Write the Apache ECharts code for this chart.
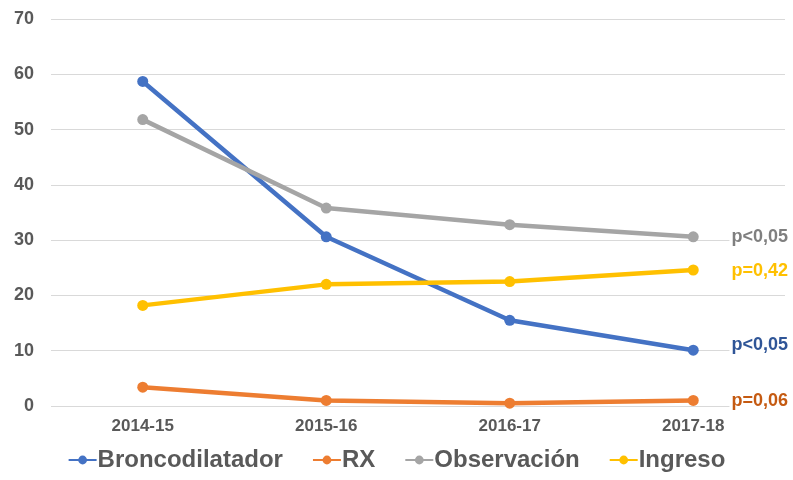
<!DOCTYPE html>
<html>
<head>
<meta charset="utf-8">
<script src="https://cdn.jsdelivr.net/npm/echarts@6/dist/echarts.min.js"></script>
<style>
  html, body { margin: 0; padding: 0; background: #fff; }
  #chart { width: 793px; height: 480px; }
</style>
</head>
<body>
<div id="chart"></div>
<script>
// datos
const seasons = ['2014-15', '2015-16', '2016-17', '2017-18']
const broncodilatador = [58.7, 30.6, 15.5, 10.1]
const rx = [3.4, 1.0, 0.5, 1.0]
const observacion = [51.8, 35.8, 32.8, 30.6]
const ingreso = [18.2, 22.0, 22.5, 24.6]
const yTicks = { min: 0, max: 70, interval: 10 }

const colors = ['#4472C4', '#ED7D31', '#A5A5A5', '#FFC000']
const font = 'Liberation Sans, Arial, sans-serif'

const chart = echarts.init(document.getElementById('chart'))

function line(name, data, color) {
  return {
    name,
    type: 'line',
    data,
    symbol: 'circle',
    symbolSize: 11,
    itemStyle: { color },
    lineStyle: { color, width: 4.5 },
    emphasis: { disabled: true }
  }
}

// etiquetas de p a la derecha (fondo blanco, tapan la rejilla)
function pLabel(text, y, color) {
  return {
    type: 'text',
    right: 4,
    top: y - 11,
    z: 100,
    style: {
      text,
      fill: color,
      font: 'bold 18px ' + font,
      textAlign: 'right',
      backgroundColor: '#fff',
      padding: [1, 1, 1, 2]
    }
  }
}

chart.setOption({
  animation: false,
  grid: {
    left: 51,
    right: 8,
    top: 19,
    bottom: 74
  },
  legend: {
    bottom: 3,
    left: 'center',
    itemGap: 29,
    itemWidth: 28,
    itemHeight: 11,
    textStyle: {
      fontFamily: font,
      fontSize: 24,
      fontWeight: 'bold',
      color: '#595959',
      padding: [0, 0, 0, -4]
    },
    data: ['Broncodilatador', 'RX', 'Observación', 'Ingreso']
  },
  xAxis: {
    type: 'category',
    data: seasons,
    axisLine: { show: false },
    axisTick: { show: false },
    axisLabel: {
      fontFamily: font,
      fontSize: 17,
      fontWeight: 'bold',
      color: '#595959',
      margin: 12
    }
  },
  yAxis: {
    type: 'value',
    min: yTicks.min,
    max: yTicks.max,
    interval: yTicks.interval,
    axisLine: { show: false },
    axisTick: { show: false },
    splitLine: { lineStyle: { color: '#D9D9D9', width: 1 } },
    axisLabel: {
      fontFamily: font,
      fontSize: 18,
      fontWeight: 'bold',
      color: '#595959',
      margin: 17
    }
  },
  series: [
    line('Broncodilatador', broncodilatador, colors[0]),
    line('RX', rx, colors[1]),
    line('Observación', observacion, colors[2]),
    line('Ingreso', ingreso, colors[3])
  ],
  graphic: [
    pLabel('p<0,05', 238, '#7F7F7F'),
    pLabel('p=0,42', 272, '#FFC000'),
    pLabel('p<0,05', 346, '#2F5597'),
    pLabel('p=0,06', 402, '#C55A11')
  ]
})
</script>
</body>
</html>
